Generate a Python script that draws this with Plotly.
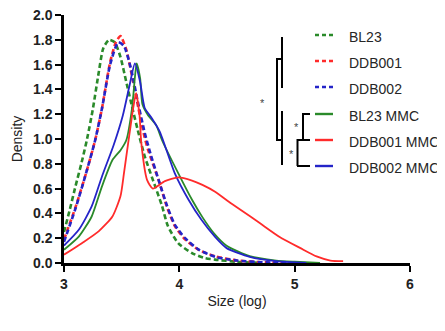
import plotly.graph_objects as go

# ---------------- data ----------------
series_names = ["BL23", "DDB001", "DDB002", "BL23 MMC", "DDB001 MMC", "DDB002 MMC"]

bl23_x = [3.0, 3.05, 3.10, 3.15, 3.20, 3.25, 3.30, 3.34, 3.39, 3.44, 3.49, 3.54, 3.59, 3.64,
          3.70, 3.79, 3.85, 3.90, 3.99, 4.11, 4.22, 4.31, 4.5, 4.7]
bl23_y = [0.25, 0.43, 0.62, 0.80, 1.00, 1.24, 1.53, 1.73, 1.80, 1.78, 1.66, 1.46, 1.26, 1.07,
          0.86, 0.62, 0.46, 0.30, 0.16, 0.08, 0.04, 0.027, 0.01, 0.0]

ddb001_x = [3.0, 3.10, 3.19, 3.27, 3.33, 3.40, 3.45, 3.49, 3.54, 3.60, 3.66, 3.70, 3.73, 3.82,
            3.89, 3.96, 4.05, 4.165, 4.31, 4.5, 4.75, 5.05]
ddb001_y = [0.19, 0.45, 0.72, 0.99, 1.25, 1.62, 1.78, 1.83, 1.72, 1.46, 1.18, 1.01, 0.91, 0.67,
            0.46, 0.30, 0.19, 0.107, 0.054, 0.02, 0.005, 0.0]

ddb002_x = [3.0, 3.10, 3.19, 3.27, 3.33, 3.40, 3.47, 3.52, 3.58, 3.64, 3.70, 3.75, 3.82,
            3.89, 3.96, 4.05, 4.165, 4.31, 4.5, 4.75, 5.0]
ddb002_y = [0.17, 0.44, 0.72, 0.99, 1.25, 1.60, 1.78, 1.75, 1.57, 1.30, 1.05, 0.88, 0.67,
            0.47, 0.31, 0.20, 0.11, 0.05, 0.02, 0.005, 0.0]

bl23mmc_x = [3.0, 3.13, 3.24, 3.33, 3.42, 3.49, 3.54, 3.59, 3.615, 3.63, 3.66, 3.68, 3.73, 3.80,
             3.85, 3.99, 4.11, 4.20, 4.30, 4.41, 4.61, 4.84, 5.0, 5.22]
bl23mmc_y = [0.107, 0.215, 0.375, 0.62, 0.83, 0.91, 0.99, 1.25, 1.50, 1.61, 1.49, 1.28, 1.19, 1.11,
             0.99, 0.725, 0.51, 0.37, 0.24, 0.14, 0.055, 0.02, 0.01, 0.0]

ddb001mmc_x = [3.0, 3.155, 3.30, 3.42, 3.49, 3.52, 3.56, 3.60, 3.625, 3.655, 3.67, 3.72, 3.77,
               3.875, 3.99, 4.11, 4.20, 4.31, 4.42, 4.53, 4.70, 4.87, 5.05, 5.19, 5.31, 5.42]
ddb001mmc_y = [0.067, 0.16, 0.255, 0.375, 0.54, 0.725, 0.99, 1.25, 1.37, 1.19, 0.97, 0.67, 0.60,
               0.66, 0.69, 0.665, 0.63, 0.575, 0.50, 0.43, 0.32, 0.21, 0.12, 0.053, 0.02, 0.015]

ddb002mmc_x = [3.0, 3.13, 3.24, 3.33, 3.43, 3.51, 3.57, 3.615, 3.66, 3.70, 3.76, 3.83, 3.96,
               4.08, 4.19, 4.31, 4.41, 4.61, 4.84, 5.1]
ddb002mmc_y = [0.14, 0.27, 0.456, 0.70, 0.95, 1.19, 1.44, 1.61, 1.46, 1.25, 1.17, 1.06, 0.725,
               0.51, 0.35, 0.21, 0.12, 0.05, 0.015, 0.0]

y_ticks = [0.0, 0.2, 0.4, 0.6, 0.8, 1.0, 1.2, 1.4, 1.6, 1.8, 2.0]
x_ticks = [3, 4, 5, 6]

# ---------------- styles ----------------
GREEN = "#2a8a2a"
RED = "#ff2b2b"
BLUE = "#2424c8"
colors = [GREEN, RED, BLUE, GREEN, RED, BLUE]
dashes = ["5px,3px", "5px,3px", "5px,3px", "solid", "solid", "solid"]
widths = [2.6, 2.6, 2.6, 1.8, 1.8, 1.8]

xs = [bl23_x, ddb001_x, ddb002_x, bl23mmc_x, ddb001mmc_x, ddb002mmc_x]
ys = [bl23_y, ddb001_y, ddb002_y, bl23mmc_y, ddb001mmc_y, ddb002mmc_y]

# page body has an 8px default margin -> compensate
OFF = 8
W, H = 445 - OFF, 331 - OFF
L_REF, R, T_REF, B = 64, 35, 15, 68
L, T = L_REF - OFF, T_REF - OFF
PW, PH = W - L - R, H - T - B


def px(x):
    return (x - L_REF) / PW


def py(y):
    return (331 - B - y) / PH


fig = go.Figure()
order = [0, 1, 2, 3, 5, 4]
for i in order:
    fig.add_trace(go.Scatter(
        x=xs[i], y=ys[i], mode="lines", name=series_names[i],
        line=dict(color=colors[i], width=widths[i], dash=dashes[i],
                  shape="spline", smoothing=0.6),
        showlegend=False,
    ))

shapes = []
annotations = []

# custom legend
legend_y = [35, 61, 87, 114, 140, 166]
for i, yy in enumerate(legend_y):
    shapes.append(dict(type="line", xref="paper", yref="paper",
                       x0=px(315), x1=px(333), y0=py(yy), y1=py(yy),
                       line=dict(color=colors[i], width=2.4,
                                 dash="4px,3px" if i < 3 else "solid")))
    annotations.append(dict(xref="paper", yref="paper", x=px(347), y=py(yy + 2),
                            text=series_names[i], showarrow=False, xanchor="left",
                            yanchor="middle",
                            font=dict(family="Liberation Sans, Arial", size=14, color="#262626")))

# dendrogram brackets
def seg(x0, y0, x1, y1):
    shapes.append(dict(type="line", xref="paper", yref="paper",
                       x0=px(x0), x1=px(x1), y0=py(y0), y1=py(y1),
                       line=dict(color="black", width=2)))

seg(282, 37, 282, 88)
seg(282, 111, 282, 165)
seg(277, 59, 277, 140)
seg(276, 59, 282, 59)
seg(276, 140, 282, 140)
seg(303, 114, 310, 114)
seg(303, 113, 303, 140)
seg(297, 140, 310, 140)
seg(297.5, 139, 297.5, 166)
seg(297, 166, 310, 166)

for (sx, sy) in [(262, 103), (296, 127), (291, 154)]:
    annotations.append(dict(xref="paper", yref="paper", x=px(sx), y=py(sy), text="*",
                            showarrow=False, xanchor="center", yanchor="middle",
                            font=dict(family="Liberation Sans, Arial", size=11, color="#444444")))

fig.update_layout(
    width=W, height=H,
    margin=dict(l=L, r=R, t=T, b=B, autoexpand=False),
    paper_bgcolor="white", plot_bgcolor="white",
    showlegend=False,
    shapes=shapes, annotations=annotations,
    font=dict(family="Liberation Sans, Arial", color="#222222"),
)
fig.update_xaxes(
    range=[3, 6], tickvals=x_ticks, ticktext=[str(v) for v in x_ticks],
    automargin=False, ticklabeloverflow="allow",
    showline=True, linecolor="black", linewidth=2.5, mirror=False,
    ticks="outside", ticklen=6, tickwidth=2, tickcolor="black",
    showgrid=False, zeroline=False,
    tickfont=dict(family="Liberation Sans, Arial", size=14, color="#222222", weight="bold"),
    title=dict(text="Size (log)", standoff=6,
               font=dict(family="Liberation Sans, Arial", size=14, color="#222222")),
)
fig.update_yaxes(
    range=[0, 2], tickvals=y_ticks, ticktext=[f"{v:.1f}" for v in y_ticks],
    automargin=False, ticklabeloverflow="allow",
    showline=True, linecolor="black", linewidth=2.5,
    ticks="outside", ticklen=6, tickwidth=2, tickcolor="black",
    showgrid=False, zeroline=False,
    tickfont=dict(family="Liberation Sans, Arial", size=14, color="#222222", weight="bold"),
    title=dict(text="Density", standoff=8,
               font=dict(family="Liberation Sans, Arial", size=14, color="#222222")),
)

fig.write_html("out.html")
